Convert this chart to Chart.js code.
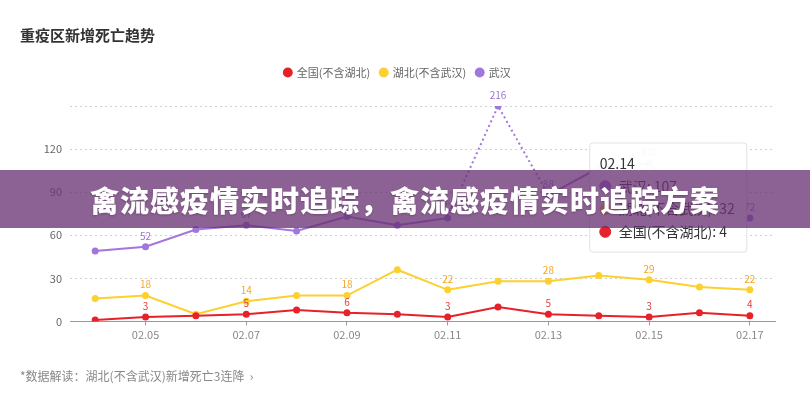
<!DOCTYPE html>
<html lang="zh-CN">

<head>
  <meta charset="UTF-8">
  <title>重疫区新增死亡趋势</title>
  <style>
    html, body { margin: 0; padding: 0; background: #fff; }
    #wrap { position: relative; width: 810px; height: 398px; }
    #banner {
      position: absolute; left: 0; top: 170px; width: 810px; height: 58px;
      background: rgba(105, 50, 115, 0.77);
      color: #fff; font: 900 29px 'Noto Sans CJK SC', sans-serif;
      line-height: 58px; text-align: center; letter-spacing: 1px;
      text-shadow: 0 1px 2px rgba(0, 0, 0, 0.25);
    }
  </style>
</head>

<body>
  <div id="wrap">
    <canvas id="chart" width="810" height="398"></canvas>
    <div id="banner">禽流感疫情实时追踪，禽流感疫情实时追踪方案</div>
  </div>

  <script src="https://cdn.jsdelivr.net/npm/chart.js@4/dist/chart.umd.min.js"></script>

  <script>
    // 日期
    const days = ['02.04', '02.05', '02.06', '02.07', '02.08', '02.09', '02.10',
      '02.11', '02.12', '02.13', '02.14', '02.15', '02.16', '02.17']
    // 全国(不含湖北)
    const national = [1, 3, 4, 5, 8, 6, 5, 3, 10, 5, 4, 3, 6, 4]
    // 湖北(不含武汉)
    const hubei = [16, 18, 5, 14, 18, 18, 36, 22, 28, 28, 32, 29, 24, 22]
    // 武汉
    const wuhan = [49, 52, 64, 67, 63, 73, 67, 72, 216, 88, 107, 110, 76, 72]
    // y 轴刻度
    const yTicks = [0, 30, 60, 90, 120]
    const yMax = 150

    const RED = '#e62129'
    const YELLOW = '#fcd02f'
    const PURPLE = '#a276dd'

    Chart.defaults.font.family = "'Noto Sans CJK SC', 'Noto Sans', sans-serif"

    // 超出上限的点画在顶部
    const clamp = arr => arr.map(v => Math.min(v, yMax))

    // 数据标签（隔一个显示，超限点也显示）
    const valueLabels = {
      id: 'valueLabels',
      afterDatasetsDraw(chart) {
        const ctx = chart.ctx
        chart.data.datasets.forEach((ds, di) => {
          const meta = chart.getDatasetMeta(di)
          meta.data.forEach((pt, i) => {
            const raw = ds.rawValues[i]
            if (i % 2 !== 1 && raw <= yMax) return
            ctx.save()
            ctx.font = "10px 'Noto Sans CJK SC', sans-serif"
            ctx.fillStyle = ds.labelColor
            ctx.textAlign = 'center'
            ctx.textBaseline = 'bottom'
            ctx.fillText(raw, pt.x, pt.y - 6)
            ctx.restore()
          })
        })
      }
    }

    // 图例与图表之间留空
    const legendGap = {
      id: 'legendGap',
      beforeInit(chart) {
        const fit = chart.legend.fit
        chart.legend.fit = function () {
          fit.bind(chart.legend)()
          this.height += 18
        }
      }
    }

    Chart.Tooltip.positioners.fixedBox = function (elements) {
      if (!elements.length) return false
      const area = this.chart.chartArea
      return { x: elements[0].element.x - 6, y: area.top + 37 }
    }

    const dotted = ctx => (wuhan[ctx.p0DataIndex] > yMax || wuhan[ctx.p1DataIndex] > yMax) ? [2, 3] : undefined

    const makeSet = (label, values, color, labelColor, extra) => Object.assign({
      label,
      data: clamp(values),
      rawValues: values,
      borderColor: color,
      backgroundColor: color,
      pointBackgroundColor: color,
      pointBorderColor: color,
      labelColor,
      borderWidth: 2,
      pointRadius: 3.5,
      pointHoverRadius: 3.5,
      pointBorderWidth: 0,
      pointStyle: 'circle',
      tension: 0
    }, extra || {})

    const chart = new Chart(document.getElementById('chart'), {
      type: 'line',
      data: {
        labels: days,
        datasets: [
          makeSet('全国(不含湖北)', national, RED, '#e43c3c'),
          makeSet('湖北(不含武汉)', hubei, YELLOW, '#f5a623'),
          makeSet('武汉', wuhan, PURPLE, '#9d74d6', { segment: { borderDash: dotted } })
        ]
      },
      options: {
        responsive: false,
        animation: false,
        events: [],
        layout: { padding: { left: 20, right: 35, top: 0, bottom: 0 } },
        scales: {
          x: {
            offset: true,
            grid: {
              display: true,
              drawOnChartArea: false,
              tickLength: 4,
              color: c => c.index % 2 === 1 ? '#999' : 'rgba(0,0,0,0)'
            },
            border: { display: true, color: '#999', width: 1 },
            ticks: {
              autoSkip: false,
              maxRotation: 0,
              color: '#888',
              font: { size: 11 },
              padding: 3,
              callback: (v, i) => i % 2 === 1 ? days[i] : ''
            }
          },
          y: {
            min: 0,
            max: yMax,
            afterFit: s => { s.width = 50 },
            border: { display: false, dash: [2, 3] },
            grid: {
              color: '#d0d0d0',
              drawTicks: false
            },
            ticks: {
              stepSize: 30,
              color: '#666',
              font: { size: 11 },
              padding: 8,
              callback: v => yTicks.includes(v) ? v : ''
            }
          }
        },
        plugins: {
          title: {
            display: true,
            text: '重疫区新增死亡趋势',
            align: 'start',
            color: '#333',
            font: { size: 15, weight: 'bold' },
            padding: { top: 26, bottom: 13 }
          },
          subtitle: {
            display: true,
            position: 'bottom',
            align: 'start',
            text: '*数据解读：湖北(不含武汉)新增死亡3连降  ›',
            color: '#888',
            font: { size: 12 },
            padding: { top: 25, bottom: 14 }
          },
          legend: {
            display: true,
            position: 'top',
            labels: {
              usePointStyle: true,
              pointStyle: 'circle',
              boxWidth: 7,
              boxHeight: 7,
              color: '#666',
              font: { size: 11 },
              padding: 10
            }
          },
          tooltip: {
            enabled: true,
            position: 'fixedBox',
            xAlign: 'left',
            yAlign: 'top',
            caretSize: 0,
            caretPadding: 0,
            cornerRadius: 3,
            backgroundColor: 'rgba(255,255,255,0.96)',
            borderColor: '#e2e2e2',
            borderWidth: 1,
            titleColor: '#333',
            bodyColor: '#333',
            titleFont: { size: 14, weight: 'normal' },
            bodyFont: { size: 14 },
            titleMarginBottom: 6,
            bodySpacing: 6,
            padding: { top: 12, bottom: 12, left: 10, right: 12 },
            usePointStyle: true,
            boxWidth: 11,
            boxHeight: 11,
            boxPadding: 6,
            itemSort: (a, b) => b.datasetIndex - a.datasetIndex,
            callbacks: {
              label: c => c.dataset.label + ': ' + c.dataset.rawValues[c.dataIndex],
              labelColor: c => ({ borderColor: c.dataset.borderColor, backgroundColor: c.dataset.borderColor, borderWidth: 0 })
            }
          }
        }
      },
      plugins: [valueLabels, legendGap]
    })

    // 02.14 的提示框
    const hoverIdx = days.indexOf('02.14')
    const pt = chart.getDatasetMeta(2).data[hoverIdx]
    chart.tooltip.setActiveElements([
      { datasetIndex: 0, index: hoverIdx },
      { datasetIndex: 1, index: hoverIdx },
      { datasetIndex: 2, index: hoverIdx }
    ], { x: pt.x, y: pt.y })
    chart.update()
  </script>
</body>

</html>
